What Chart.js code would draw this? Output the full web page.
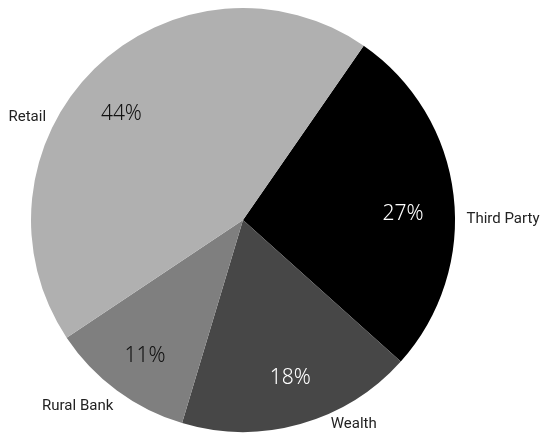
<!DOCTYPE html>
<html>
<head>
<meta charset="utf-8">
<script src="https://cdn.jsdelivr.net/npm/chart.js@4/dist/chart.umd.min.js"></script>
<style>
  html, body { margin: 0; padding: 0; background: #fff; }
  #wrap { width: 540px; height: 434px; }
</style>
</head>
<body>
<div id="wrap"><canvas id="segmentChart"></canvas></div>
<script>
// Share by business segment
const segments = ['Third Party', 'Wealth', 'Rural Bank', 'Retail'];
const shares = [27, 18, 11, 44];
const sliceColors = ['#000000', '#474747', '#7f7f7f', '#b0b0b0'];
const pctColors = ['#ffffff', '#ffffff', '#111111', '#111111'];

// Draws the % inside each slice and the segment name outside it.
// Angles are nudged (degrees) off the slice middle so labels sit like the old report.
const sliceLabels = {
  id: 'sliceLabels',
  afterDatasetsDraw(chart, args, opts) {
    const ctx = chart.ctx;
    const meta = chart.getDatasetMeta(0);
    const rad = Math.PI / 180;
    ctx.save();
    ctx.textBaseline = 'middle';
    ctx.textAlign = 'center';
    meta.data.forEach((arc, i) => {
      const p = arc.getProps(['x', 'y', 'startAngle', 'endAngle', 'outerRadius'], true);
      const mid = (p.startAngle + p.endAngle) / 2;

      // percentage inside
      const ai = mid + opts.innerNudge[i] * rad;
      const ri = p.outerRadius * opts.innerRatio[i];
      ctx.font = opts.pctFont;
      ctx.fillStyle = pctColors[i];
      ctx.fillText(shares[i] + '%', p.x + Math.cos(ai) * ri, p.y + Math.sin(ai) * ri);

      // name outside the rim
      const ao = mid + opts.outerNudge[i] * rad;
      const ro = p.outerRadius + opts.outerGap[i];
      ctx.font = opts.nameFont;
      ctx.fillStyle = '#222222';
      ctx.fillText(segments[i], p.x + Math.cos(ao) * ro, p.y + Math.sin(ao) * ro);
    });
    ctx.restore();
  }
};

new Chart(document.getElementById('segmentChart'), {
  type: 'pie',
  data: {
    labels: segments,
    datasets: [{
      data: shares,
      backgroundColor: sliceColors,
      borderWidth: 0
    }]
  },
  options: {
    responsive: true,
    maintainAspectRatio: false,
    animation: false,
    rotation: 34.7,
    layout: {
      padding: { top: 8, bottom: 2, left: 0, right: 54 }
    },
    plugins: {
      legend: { display: false },
      tooltip: { enabled: false },
      sliceLabels: {
        innerRatio: [0.755, 0.78, 0.79, 0.76],
        innerNudge: [4.6, -0.9, -0.7, -4.5],
        outerNudge: [6.5, -12.8, 5.1, -20],
        outerGap: [48, 20, 37, 27],
        pctFont: '300 21px "Noto Sans"',
        nameFont: '15px Roboto'
      }
    }
  },
  plugins: [sliceLabels]
});
</script>
</body>
</html>
